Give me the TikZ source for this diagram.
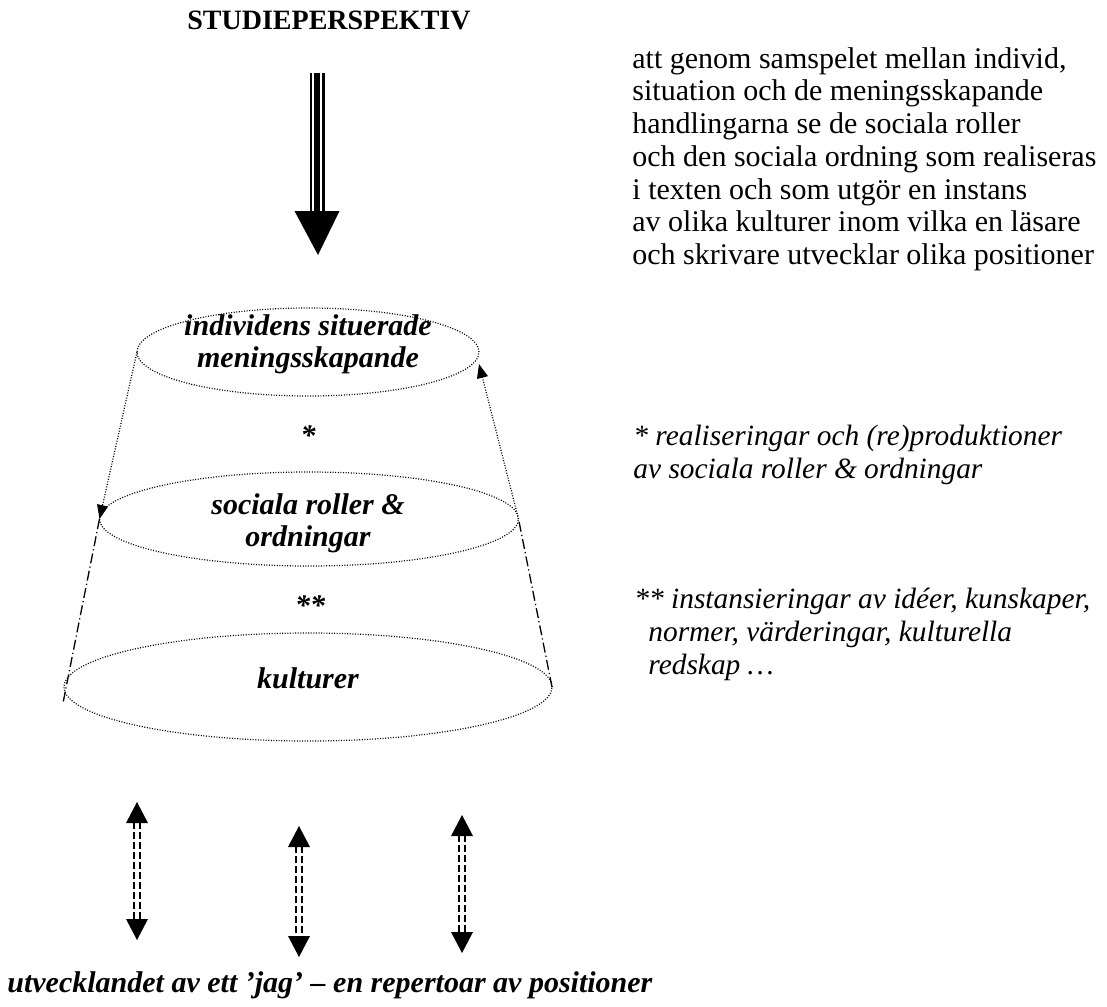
\documentclass[tikz,border=0pt]{standalone}
\usepackage{fontspec}
\setmainfont{Liberation Serif}
\usetikzlibrary{arrows.meta,shapes.geometric}
\newcommand\dblarr[2]{%
  \draw[dshaft,shorten <=10pt,shorten >=10pt] ([xshift=-1.5pt]#1) -- ([xshift=-1.5pt]#2);
  \draw[dshaft,shorten <=10pt,shorten >=10pt] ([xshift=1.5pt]#1) -- ([xshift=1.5pt]#2);
  \fill (#1) -- ([xshift=-5.5pt,yshift=-10.5pt]#1) -- ([xshift=5.5pt,yshift=-10.5pt]#1) -- cycle;
  \fill (#2) -- ([xshift=-5.5pt,yshift=10.5pt]#2) -- ([xshift=5.5pt,yshift=10.5pt]#2) -- cycle;
}
\begin{document}
\begin{tikzpicture}[x=0.5pt,y=-0.5pt,
  dotline/.style={line width=0.6pt, dash pattern=on 0.5pt off 0.8pt},
  dashdot/.style={line width=0.65pt, dash pattern=on 5pt off 1.6pt on 0.6pt off 1.6pt},
  ell/.style={ellipse, draw, dotline, inner sep=0pt, outer sep=0pt},
  lab/.style={font=\fontsize{15}{16}\selectfont\bfseries\itshape, align=center, inner sep=0pt},
  body/.style={font=\fontsize{15}{16.35}\selectfont, align=left, inner sep=0pt, anchor=north west},
  note/.style={font=\fontsize{14.7}{16.5}\selectfont\itshape, align=left, inner sep=0pt, anchor=north west},
  tip/.style={-{Triangle[length=7pt,width=5.5pt]}},
  dshaft/.style={line width=1pt, dash pattern=on 3.5pt off 1.5pt},
]
\useasboundingbox (0,0) rectangle (1107,1006);

% title and big arrow
\node[font=\fontsize{14}{16}\selectfont\bfseries, anchor=base west, inner sep=0pt] (title) at (187,30) {STUDIEPERSPEKTIV};
\coordinate (bigT) at (317,73);
\coordinate (bigB) at (317,211);
\coordinate (bigTip) at (318,255);
\draw[line width=1pt] ([xshift=-3.25pt]bigT) -- ([xshift=-3.25pt]bigB);
\draw[line width=3pt] (bigT) -- (bigB);
\draw[line width=1.5pt] ([xshift=3.25pt]bigT) -- ([xshift=3.25pt]bigB);
\fill ([xshift=-11.25pt]bigB) -- ([xshift=11.25pt]bigB) -- (bigTip) -- cycle;

% right text
\node[body] (intro) at (632,47) {att genom samspelet mellan individ,\\
situation och de meningsskapande\\
handlingarna se de sociala roller\\
och den sociala ordning som realiseras\\
i texten och som utgör en instans\\
av olika kulturer inom vilka en läsare\\
och skrivare utvecklar olika positioner};

% ellipses
\node[ell, minimum width=171pt, minimum height=44pt] (top) at (308,352) {};
\node[ell, minimum width=209.5pt, minimum height=47pt] (mid) at (309,519) {};
\node[ell, minimum width=244pt, minimum height=54pt] (bot) at (308,687) {};

\node[lab] (toplab) at (308,344) {individens situerade\\meningsskapande};
\node[lab] (midlab) at (308,523) {sociala roller \&\\ordningar};
\node[lab, anchor=base] (botlab) at (308,688) {kulturer};
\node[lab, anchor=base] (star1) at (308,445) {*};
\node[lab, anchor=base] (star2) at (310,615) {**};

% side connectors
\coordinate (lowleft) at (63,703);
\draw[dotline, tip] (top.west) -- (mid.west);
\draw[dashdot] (mid.west) -- (lowleft);
\draw[dashdot] (bot.east) -- (mid.east);
\draw[dotline, tip] (mid.east) -- ([yshift=-6pt]top.east);

% notes
\node[note] (note1) at (633,425) {* realiseringar och (re)produktioner\\av sociala roller \& ordningar};
\node[note] (note2) at (634,588) {** instansieringar av idéer, kunskaper,\\\hspace*{7pt}normer, värderingar, kulturella\\\hspace*{7pt}redskap …};

% bottom arrows
\coordinate (a1t) at (137,802); \coordinate (a1b) at (137,940);
\coordinate (a2t) at (299,826); \coordinate (a2b) at (299,957);
\coordinate (a3t) at (462,815); \coordinate (a3b) at (462,953);
\dblarr{a1t}{a1b}
\dblarr{a2t}{a2b}
\dblarr{a3t}{a3b}

\node[lab, anchor=base west] (bottom) at (7,992) {utvecklandet av ett ’jag’ – en repertoar av positioner};
\end{tikzpicture}
\end{document}
